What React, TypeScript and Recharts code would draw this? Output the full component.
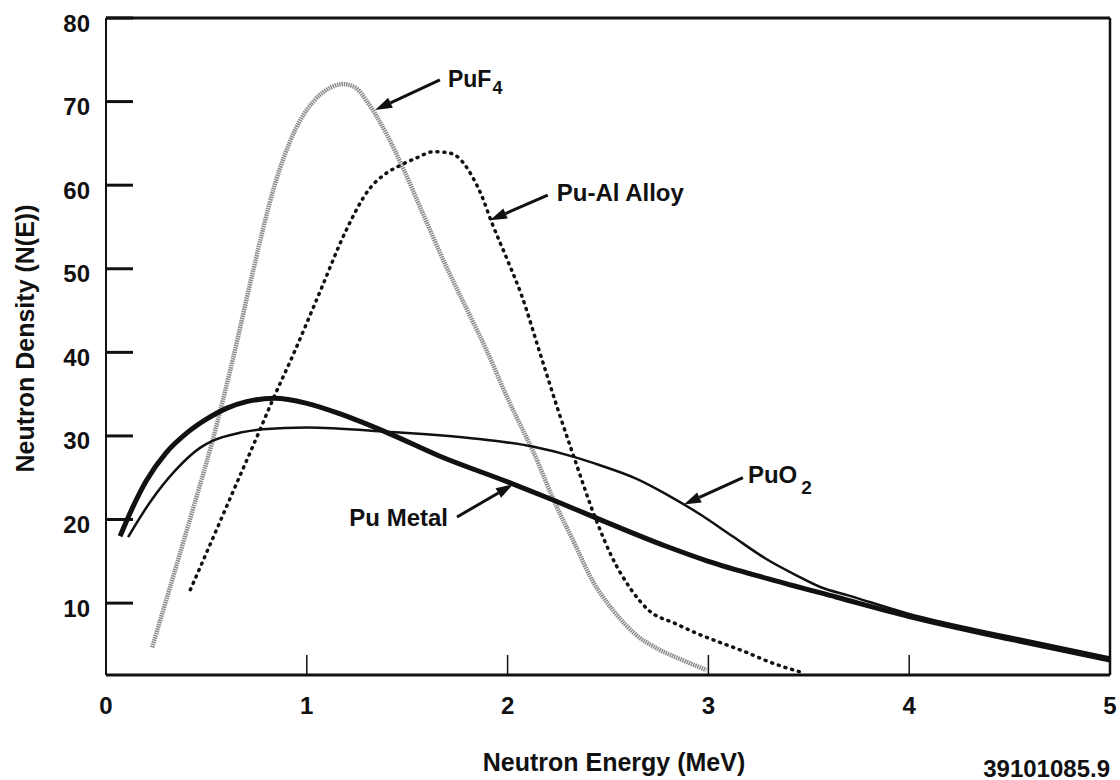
import { LineChart, Line, XAxis, YAxis, ReferenceLine, Label } from 'recharts';

// Neutron energy spectra (MeV vs N(E)) for four plutonium forms
const puMetalEnergy = [0.07, 0.13, 0.2, 0.3, 0.4, 0.5, 0.6, 0.7, 0.84, 1.0, 1.17, 1.4, 1.66, 2.0, 2.23, 2.44, 2.79, 3.0, 3.3, 3.64, 4.0, 4.5, 5.0];
const puMetalDensity = [18.0, 21.3, 24.6, 28.0, 30.3, 32.0, 33.3, 34.1, 34.5, 33.9, 32.6, 30.4, 27.6, 24.5, 22.3, 20.2, 16.8, 15.0, 12.9, 10.7, 8.4, 5.7, 3.2];

const puO2Energy = [0.11, 0.22, 0.35, 0.47, 0.53, 0.67, 0.78, 1.0, 1.4, 1.83, 2.13, 2.33, 2.46, 2.64, 2.8, 2.96, 3.12, 3.28, 3.44, 3.56, 3.7, 4.0, 4.5, 5.0];
const puO2Density = [17.9, 22.1, 26.0, 28.6, 29.4, 30.4, 30.8, 31.0, 30.5, 29.7, 28.7, 27.5, 26.5, 24.9, 22.9, 20.6, 18.0, 15.4, 13.3, 11.9, 10.9, 8.7, 6.0, 3.5];

const puF4Energy = [0.23, 0.33, 0.43, 0.53, 0.63, 0.73, 0.84, 0.94, 1.04, 1.12, 1.18, 1.24, 1.3, 1.4, 1.48, 1.58, 1.69, 1.8, 1.9, 2.0, 2.08, 2.13, 2.23, 2.33, 2.42, 2.52, 2.64, 2.75, 2.86, 2.99];
const puF4Density = [4.7, 12.8, 21.0, 29.4, 39.0, 49.5, 60.0, 66.5, 70.2, 71.7, 72.1, 71.7, 70.0, 66.0, 62.0, 56.5, 50.5, 45.0, 40.0, 34.5, 30.5, 28.0, 22.3, 17.3, 12.8, 9.3, 6.2, 4.5, 3.3, 2.0];

const puAlEnergy = [0.42, 0.54, 0.65, 0.75, 0.83, 0.93, 1.07, 1.19, 1.31, 1.4, 1.46, 1.55, 1.63, 1.7, 1.76, 1.82, 1.87, 1.92, 2.0, 2.07, 2.16, 2.25, 2.33, 2.44, 2.52, 2.61, 2.7, 2.84, 2.96, 3.08, 3.19, 3.3, 3.48];
const puAlDensity = [11.6, 18.2, 24.3, 29.8, 34.3, 39.6, 47.5, 54.3, 59.5, 61.5, 62.3, 63.3, 64.0, 63.9, 63.2, 61.2, 58.8, 55.6, 51.0, 46.8, 40.0, 33.2, 27.5, 20.0, 15.5, 11.8, 9.2, 7.5, 6.2, 5.1, 4.1, 3.0, 1.6];

const energyTicks = [0, 1, 2, 3, 4, 5];
const densityTicks = [10, 20, 30, 40, 50, 60, 70, 80];

const toPoints = (energy: number[], density: number[]) =>
  energy.map((e, i) => ({ e, n: density[i] }));

const FONT = '"Liberation Sans", Arial, Helvetica, sans-serif';
const INK = '#111';

// callout arrows: tail near the text, tip on the curve
const callouts = [
  { key: 'puf4', tail: [1.663, 72.6], tip: [1.34, 69.0], text: 'PuF', sub: '4', anchor: 'start', dx: 8, dy: -1, size: 23, subDx: 1, subDy: 9 },
  { key: 'pual', tail: [2.2, 58.8], tip: [1.912, 55.8], text: 'Pu-Al Alloy', sub: '', anchor: 'start', dx: 9, dy: -3, size: 24, subDx: 0, subDy: 0 },
  { key: 'puo2', tail: [3.172, 25.0], tip: [2.878, 21.8], text: 'PuO', sub: '2', anchor: 'start', dx: 5, dy: -3, size: 24, subDx: 4, subDy: 12 },
  { key: 'pumetal', tail: [1.748, 20.3], tip: [2.027, 24.2], text: 'Pu Metal', sub: '', anchor: 'end', dx: -9, dy: 0, size: 24, subDx: 0, subDy: 0 },
];

function Callout(props: any) {
  const { x1, y1, x2, y2, item } = props;
  const ang = Math.atan2(y2 - y1, x2 - x1);
  const head = 17;
  const half = 5.5;
  const bx = x2 - head * Math.cos(ang);
  const by = y2 - head * Math.sin(ang);
  const px = -Math.sin(ang) * half;
  const py = Math.cos(ang) * half;
  return (
    <g>
      <line x1={x1} y1={y1} x2={bx} y2={by} stroke={INK} strokeWidth={3} />
      <polygon points={`${x2},${y2} ${bx + px},${by + py} ${bx - px},${by - py}`} fill={INK} />
      <text
        x={x1 + item.dx}
        y={y1 + item.dy}
        textAnchor={item.anchor}
        dominantBaseline="central"
        fontFamily={FONT}
        fontWeight={700}
        fontSize={item.size}
        fill={INK}
      >
        {item.text}
        {item.sub && (
          <tspan dx={item.subDx} dy={item.subDy} fontSize={item.size - 5}>
            {item.sub}
          </tspan>
        )}
      </text>
    </g>
  );
}

export default function App() {
  return (
    <div style={{ position: 'absolute', left: 0, top: 0, background: '#fff' }}>
      <LineChart width={1120} height={780} margin={{ top: 18, right: 10, bottom: 45, left: 0 }}>
        <XAxis
          type="number"
          dataKey="e"
          domain={[0, 5]}
          ticks={energyTicks}
          allowDataOverflow
          height={60}
          axisLine={{ stroke: INK, strokeWidth: 3 }}
          tickLine={{ stroke: INK, strokeWidth: 1.5 }}
          tickSize={-20}
          tickMargin={42}
          tick={{ fill: INK, fontSize: 24, fontWeight: 700, fontFamily: FONT }}
        >
          <Label
            content={({ viewBox }: any) => (
              <g fontFamily={FONT} fontWeight={700} fill={INK}>
                <text x={viewBox.x + viewBox.width / 2 + 6} y={viewBox.y + 87} textAnchor="middle" dominantBaseline="central" fontSize={25}>
                  Neutron Energy (MeV)
                </text>
                <text x={viewBox.x + viewBox.width} y={viewBox.y + 93} textAnchor="end" dominantBaseline="central" fontSize={24}>
                  39101085.9
                </text>
              </g>
            )}
          />
        </XAxis>
        <YAxis
          type="number"
          domain={[1.4, 80]}
          ticks={densityTicks}
          allowDataOverflow
          width={106}
          axisLine={{ stroke: INK, strokeWidth: 2 }}
          tickLine={{ stroke: INK, strokeWidth: 3 }}
          tickSize={-27}
          tickMargin={43}
          tick={{ fill: INK, fontSize: 24, fontWeight: 700, fontFamily: FONT, dy: 5 }}
        >
          <Label
            content={({ viewBox }: any) => {
              const cx = viewBox.x + 25;
              const cy = viewBox.y + viewBox.height / 2 - 8;
              return (
                <text
                  x={cx}
                  y={cy}
                  transform={`rotate(-90 ${cx} ${cy})`}
                  textAnchor="middle"
                  dominantBaseline="central"
                  fontFamily={FONT}
                  fontWeight={700}
                  fontSize={25}
                  fill={INK}
                >
                  Neutron Density (N(E))
                </text>
              );
            }}
          />
        </YAxis>

        {/* frame: top and right edges */}
        <ReferenceLine y={80} stroke={INK} strokeWidth={3} />
        <ReferenceLine x={5} stroke={INK} strokeWidth={2.5} />

        <Line
          data={toPoints(puF4Energy, puF4Density)}
          dataKey="n"
          type="monotone"
          stroke="#8c8c8c"
          strokeWidth={4.5}
          strokeDasharray="1.5 0.8"
          dot={false}
          isAnimationActive={false}
        />
        <Line
          data={toPoints(puAlEnergy, puAlDensity)}
          dataKey="n"
          type="monotone"
          stroke={INK}
          strokeWidth={3.5}
          strokeDasharray="1 6"
          strokeLinecap="round"
          dot={false}
          isAnimationActive={false}
        />
        <Line
          data={toPoints(puO2Energy, puO2Density)}
          dataKey="n"
          type="monotone"
          stroke={INK}
          strokeWidth={2.5}
          dot={false}
          isAnimationActive={false}
        />
        <Line
          data={toPoints(puMetalEnergy, puMetalDensity)}
          dataKey="n"
          type="monotone"
          stroke={INK}
          strokeWidth={5}
          dot={false}
          isAnimationActive={false}
        />

        {callouts.map((c) => (
          <ReferenceLine
            key={c.key}
            segment={[
              { x: c.tail[0], y: c.tail[1] },
              { x: c.tip[0], y: c.tip[1] },
            ]}
            stroke={INK}
            shape={(p: any) => <Callout {...p} item={c} />}
          />
        ))}
      </LineChart>
    </div>
  );
}
